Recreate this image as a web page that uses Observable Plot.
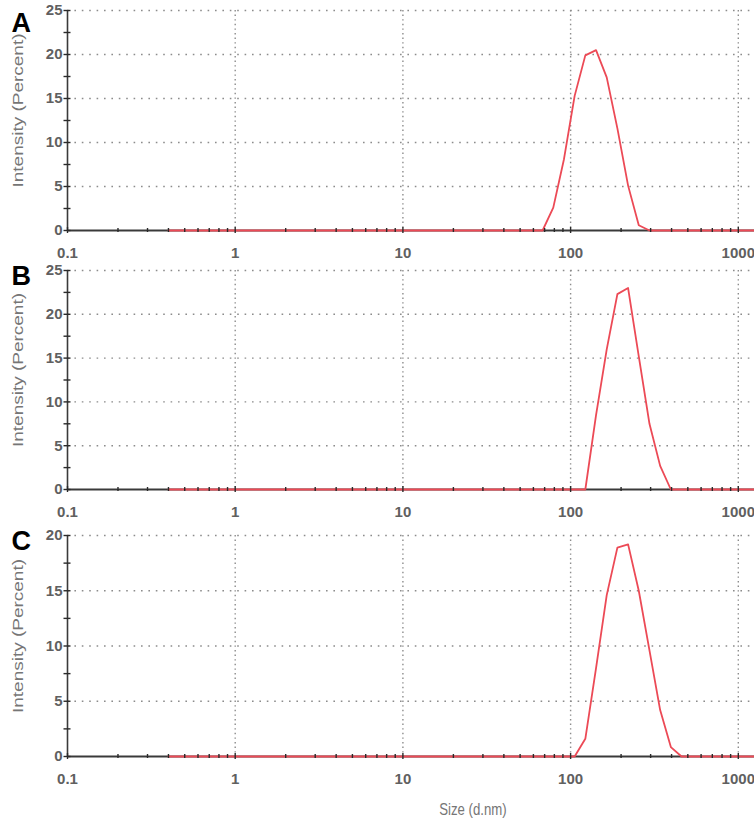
<!DOCTYPE html>
<html>
<head>
<meta charset="utf-8">
<script src="https://cdn.jsdelivr.net/npm/d3@7"></script>
<script src="https://cdn.jsdelivr.net/npm/@observablehq/plot@0.6"></script>
<style>
  html, body { margin: 0; padding: 0; background: white; overflow: hidden; }
  svg { display: block; }
</style>
</head>
<body>
<div id="chart"></div>
<script>
// Size bins (d.nm), Zetasizer log-spaced classes
const sizes = [0.4, 0.4632, 0.5365, 0.6213, 0.7195, 0.8332, 0.9649, 1.117, 1.294, 1.499,
  1.736, 2.01, 2.328, 2.696, 3.122, 3.615, 4.187, 4.849, 5.615, 6.503,
  7.531, 8.721, 10.1, 11.7, 13.54, 15.69, 18.17, 21.04, 24.36, 28.21,
  32.67, 37.84, 43.82, 50.75, 58.77, 68.06, 78.82, 91.28, 105.7, 122.4,
  141.8, 164.2, 190.1, 220.2, 255.0, 295.3, 342.0, 396.1, 458.7, 531.2,
  615.1, 712.4, 825.0, 955.4, 1106, 1281, 1484, 1718, 1990, 2305,
  2669, 3091, 3580, 4145, 4801, 5560, 6439, 7456, 8635, 10000];

// Intensity (Percent) per bin
const intensityA = [0,0,0,0,0,0,0,0,0,0, 0,0,0,0,0,0,0,0,0,0, 0,0,0,0,0,0,0,0,0,0,
  0,0,0,0,0,0,2.6,8.1,15.3,19.9, 20.5,17.4,11.6,5.1,0.6,0,0,0,0,0,
  0,0,0,0,0,0,0,0,0,0, 0,0,0,0,0,0,0,0,0,0];
const intensityB = [0,0,0,0,0,0,0,0,0,0, 0,0,0,0,0,0,0,0,0,0, 0,0,0,0,0,0,0,0,0,0,
  0,0,0,0,0,0,0,0,0,0, 8.5,16.0,22.3,23.0,15.2,7.5,2.7,0,0,0,
  0,0,0,0,0,0,0,0,0,0, 0,0,0,0,0,0,0,0,0,0];
const intensityC = [0,0,0,0,0,0,0,0,0,0, 0,0,0,0,0,0,0,0,0,0, 0,0,0,0,0,0,0,0,0,0,
  0,0,0,0,0,0,0,0,0,1.6, 8.0,14.6,18.9,19.2,15.0,9.6,4.2,0.85,0,0,
  0,0,0,0,0,0,0,0,0,0, 0,0,0,0,0,0,0,0,0,0];

// Tick labels
const xTickValues = [0.1, 1, 10, 100, 1000];
const xTickLabels = ["0.1", "1", "10", "100", "1000"];
const panelLetters = ["A", "B", "C"];
const yTitle = "Intensity (Percent)";
const xTitle = "Size (d.nm)";

const xMinor = [0.1, 1, 10, 100].flatMap(d => [2,3,4,5,6,7,8,9].map(k => +(k * d).toPrecision(3)));

const FONT = "'Liberation Sans', Arial, Helvetica, sans-serif";
const LABEL_GREY = "#606060";
const TITLE_GREY = "#767676";

function panel({values, yMax, letter, marginTop, plotH, marginBottom, letterDy, showXTitle}) {
  const data = sizes.map((s, i) => ({s, v: values[i]})).filter(d => d.s <= 1300);
  const yMajor = d3.range(0, yMax + 0.01, 5);
  const yMinor = d3.range(0, yMax + 0.01, 2.5);
  const marks = [
    Plot.gridX({ticks: xTickValues.slice(1), stroke: "#8c8c8c", strokeOpacity: 1, strokeWidth: 1.4, strokeDasharray: "1.4,3.2"}),
    Plot.gridY({ticks: yMajor.slice(1), stroke: "#8c8c8c", strokeOpacity: 1, strokeWidth: 1.4, strokeDasharray: "1.6,5.8"}),
    Plot.ruleY([0], {stroke: "#3a3a3a", strokeWidth: 1.8}),
    Plot.ruleX([0.1], {stroke: "#3a3a3a", strokeWidth: 1.6}),
    Plot.line(data, {x: "s", y: "v", stroke: "#ec4a56", strokeWidth: 1.8}),
    // x minor ticks
    Plot.axisX({ticks: xMinor, tickSize: 4, dy: -2, tickFormat: () => "", stroke: "#2a2a2a", strokeWidth: 1.4, label: null}),
    // x major ticks
    Plot.axisX({ticks: xTickValues, tickSize: 6, dy: -3, tickFormat: () => "", stroke: "#2a2a2a", strokeWidth: 1.4, label: null}),
    // x tick labels
    Plot.axisX({ticks: xTickValues, tickSize: 0, tickPadding: 17, tickFormat: d => xTickLabels[xTickValues.indexOf(d)],
      fontSize: 15, fontWeight: "bold", fill: LABEL_GREY, label: null}),
    // y ticks crossing the axis
    Plot.axisY({ticks: yMinor, tickSize: 7, dx: 3.5, tickFormat: () => "", stroke: "#2a2a2a", strokeWidth: 1.4, label: null}),
    // y tick labels
    Plot.axisY({ticks: yMajor, tickSize: 0, tickPadding: 5, fontSize: 15, fontWeight: "bold", fill: LABEL_GREY, label: null}),
    // panel letter
    Plot.text([letter], {frameAnchor: "top-left", dx: -56, dy: letterDy, textAnchor: "start", lineAnchor: "middle",
      fontSize: 27, fontWeight: "bold", fill: "black"}),
    // y title
    Plot.text([yTitle], {frameAnchor: "left", dx: -49, dy: -10, rotate: -90, textAnchor: "middle", lineAnchor: "middle",
      fontSize: 19, fill: TITLE_GREY})
  ];
  if (showXTitle) {
    marks.push(Plot.text([xTitle], {frameAnchor: "bottom", dx: 62, dy: 53, lineAnchor: "middle", fontSize: 16.5, fill: TITLE_GREY}));
  }
  const svg = Plot.plot({
    width: 754,
    height: marginTop + plotH + marginBottom,
    marginLeft: 67, marginRight: 0, marginTop, marginBottom,
    style: {fontFamily: FONT, background: "white", overflow: "hidden"},
    x: {type: "log", domain: [0.1, 1249], axis: null, label: null},
    y: {domain: [0, yMax], axis: null, label: null},
    marks
  });
  // horizontal squeeze for axis titles (the source image is horizontally compressed)
  svg.querySelectorAll("text").forEach(t => {
    const txt = t.textContent;
    let sc = null;
    if (txt === yTitle) sc = " scale(1,0.8)";
    else if (txt === xTitle) sc = " scale(0.8,1)";
    if (!sc) return;
    let tr = t.getAttribute("transform");
    if (!tr) {
      const x = t.getAttribute("x") || 0, y = t.getAttribute("y") || 0;
      t.removeAttribute("x"); t.removeAttribute("y");
      tr = `translate(${x},${y})`;
    }
    t.setAttribute("transform", tr + sc);
  });
  return svg;
}

const root = document.getElementById("chart");
root.append(panel({values: intensityA, yMax: 25, letter: "A", marginTop: 10, plotH: 220, marginBottom: 32, letterDy: 12.5}));
root.append(panel({values: intensityB, yMax: 25, letter: "B", marginTop: 8, plotH: 219, marginBottom: 32, letterDy: 6}));
root.append(panel({values: intensityC, yMax: 20, letter: "C", marginTop: 14, plotH: 221, marginBottom: 64, letterDy: 6, showXTitle: true}));
</script>
</body>
</html>
